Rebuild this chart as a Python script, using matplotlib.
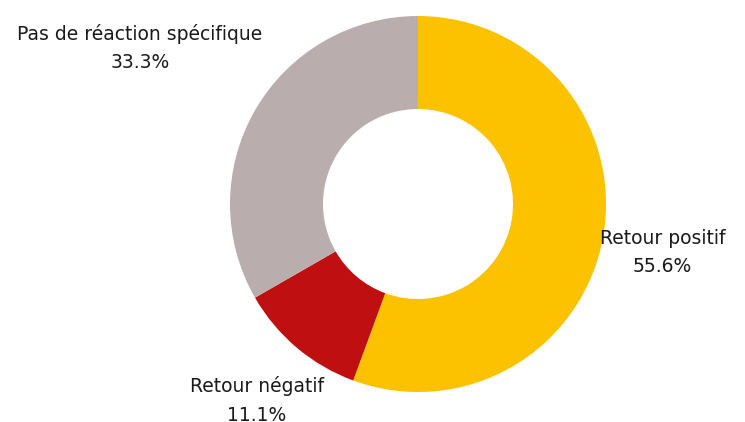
import matplotlib.pyplot as plt
import numpy as np

# data
labels = ["Retour positif", "Retour négatif", "Pas de réaction spécifique"]
values = [55.6, 11.1, 33.3]
colors = ["#FCC200", "#C00F10", "#BAADAD"]

fig = plt.figure(figsize=(7.45, 4.22), dpi=100)
ax = fig.add_axes([0, 0, 1, 1])
ax.set_aspect("equal")

cx, cy, r = 418, 218, 188
wedges, _ = ax.pie(values, colors=colors, startangle=90, counterclock=False,
                   center=(cx, cy), radius=r, frame=True,
                   wedgeprops=dict(width=r - 95, linewidth=0))
ax.set_xlim(0, 745)
ax.set_ylim(0, 422)
ax.axis("off")

# distance factor of each label from the centre
dist = [1.32, 1.33, 1.71]
for w, lab, v, d in zip(wedges, labels, values, dist):
    ang = np.deg2rad((w.theta1 + w.theta2) / 2)
    x = cx + d * r * np.cos(ang)
    y = cy + d * r * np.sin(ang) - 5
    ax.text(x, y, f"{lab}\n{v}%", ha="center", va="center", fontsize=13.5,
            color="#1a1a1a", linespacing=1.65, family="DejaVu Sans")

fig.savefig("out.png", dpi=100)
